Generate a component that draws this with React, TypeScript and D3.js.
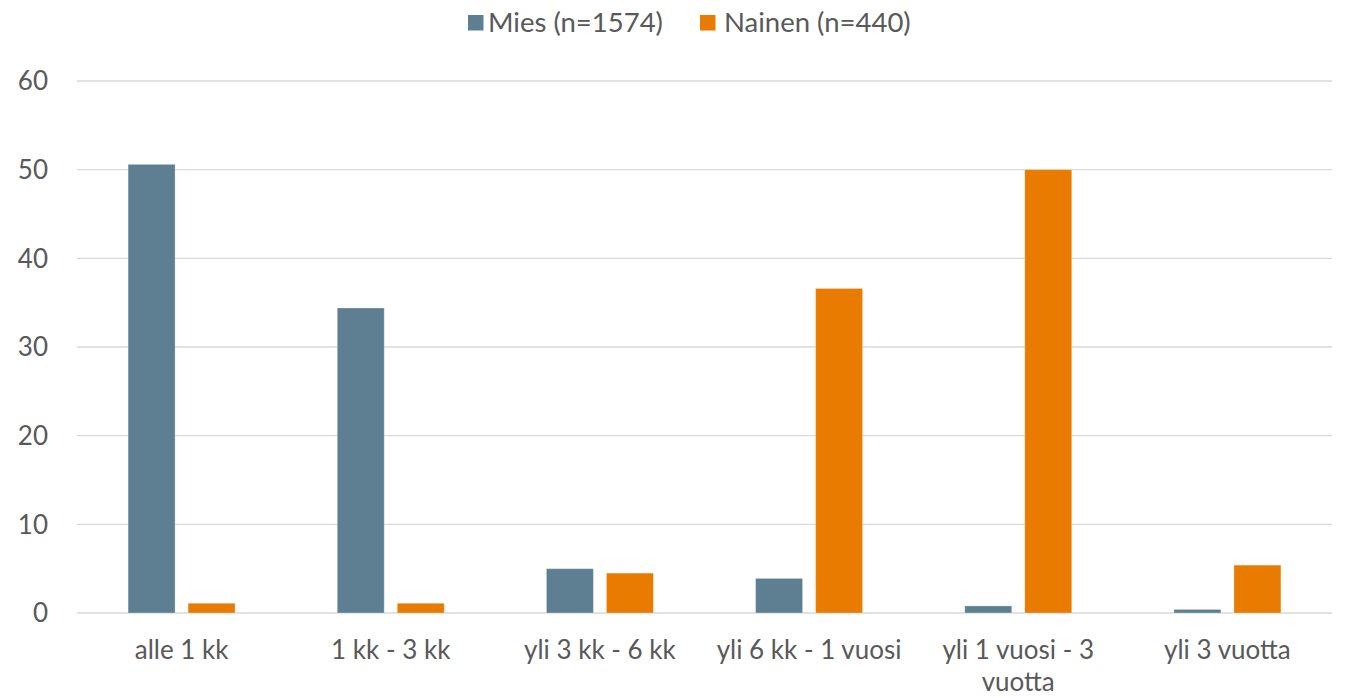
import React from "react";
import * as d3 from "d3";

const categories = ["alle 1 kk", "1 kk - 3 kk", "yli 3 kk - 6 kk", "yli 6 kk - 1 vuosi", "yli 1 vuosi - 3 vuotta", "yli 3 vuotta"];
const categoryLines = [["alle 1 kk"], ["1 kk - 3 kk"], ["yli 3 kk - 6 kk"], ["yli 6 kk - 1 vuosi"], ["yli 1 vuosi - 3", "vuotta"], ["yli 3 vuotta"]];
const seriesNames = ["Mies (n=1574)", "Nainen (n=440)"];
const miesValues = [50.6, 34.4, 5.0, 3.9, 0.8, 0.4];
const nainenValues = [1.1, 1.1, 4.5, 36.6, 50.0, 5.4];
const yTicks = [0, 10, 20, 30, 40, 50, 60];
const colors = ["#5E7F92", "#E87B00"];

const W = 1345, H = 698;
const left = 77, right = 1332, top = 81, bottom = 613;
const FONT = "Lato, 'Open Sans', sans-serif";
const FS = 26;

export default function App() {
  const x0 = d3.scaleBand<string>().domain(categories).range([left, right]).paddingInner(0).paddingOuter(0);
  const groupW = x0.bandwidth() * 0.5115;
  const x1 = d3.scaleBand<number>().domain([0, 1]).range([0, groupW]).paddingInner(0.217).paddingOuter(0);
  const y = d3.scaleLinear().domain([0, 60]).range([bottom, top]);
  const data = [miesValues, nainenValues];

  return (
    <svg width={W} height={H} style={{ position: "absolute", left: 0, top: 0, background: "#fff" }}>
      {yTicks.map((t) => (
        <g key={t}>
          <line x1={left} x2={right} y1={y(t)} y2={y(t)} stroke="#d9d9d9" strokeWidth={1.3} />
          <text x={48} y={y(t)} dy="0.36em" textAnchor="end" fontFamily={FONT} fontSize={FS} fill="#595959">{t}</text>
        </g>
      ))}
      {categories.map((c, i) => {
        const gx = x0(c)! + (x0.bandwidth() - groupW) / 2;
        return (
          <g key={c}>
            {data.map((vals, s) => (
              <rect key={s} x={gx + x1(s)!} y={y(vals[i])} width={x1.bandwidth()} height={y(0) - y(vals[i])}
                fill={colors[s]} stroke="#ffffff" strokeOpacity={0.3} strokeWidth={1} />
            ))}
            {categoryLines[i].map((ln, k) => (
              <text key={k} x={x0(c)! + x0.bandwidth() / 2} y={659 + k * 32} textAnchor="middle"
                fontFamily={FONT} fontSize={FS} fill="#595959">{ln}</text>
            ))}
          </g>
        );
      })}
      <g>
        <rect x={468} y={15} width={15.5} height={15.5} fill={colors[0]} />
        <text x={488} y={22.5} dy="0.36em" fontFamily={FONT} fontSize={27.5} fill="#595959">{seriesNames[0]}</text>
        <rect x={700} y={15} width={15.5} height={15.5} fill={colors[1]} />
        <text x={724} y={22.5} dy="0.36em" fontFamily={FONT} fontSize={27.5} fill="#595959">{seriesNames[1]}</text>
      </g>
    </svg>
  );
}
